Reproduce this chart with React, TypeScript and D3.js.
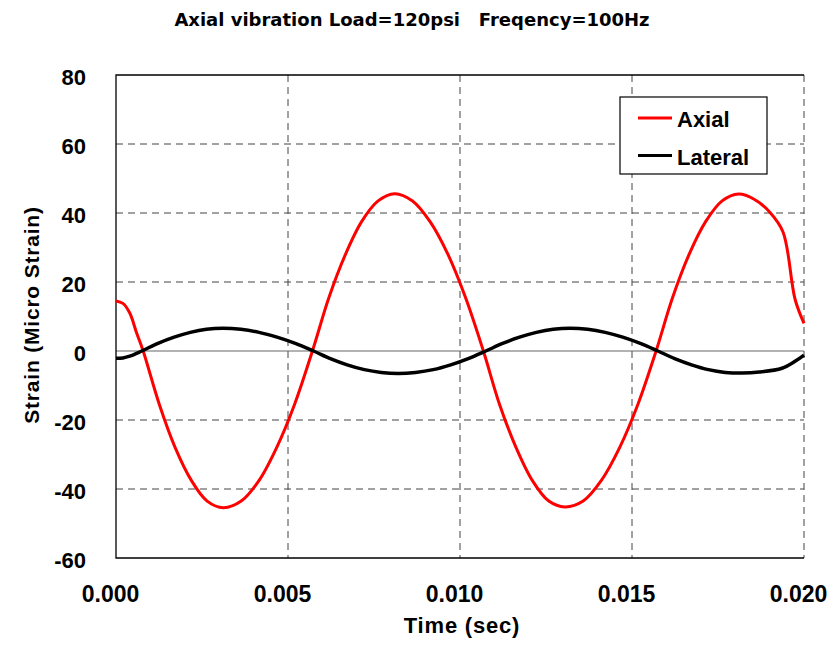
import React from "react";
import * as d3 from "d3";

// Axial strain (red)
const axialTime = [
  0, 0.0002, 0.0004, 0.0006,
  0.00079, 0.00126, 0.00172, 0.00219, 0.00265, 0.00312, 0.00364, 0.00416, 0.00467, 0.00519,
  0.00571, 0.00619, 0.00667, 0.00714, 0.00762, 0.0081, 0.00862, 0.00913, 0.00965, 0.01016,
  0.01068, 0.01115, 0.01163, 0.0121, 0.01258, 0.01305, 0.01358, 0.01411, 0.01464, 0.01517,
  0.0157, 0.01618, 0.01666, 0.01714, 0.01762, 0.0181, 0.01855, 0.019, 0.01939,
  0.01974, 0.02,
];
const axialValues = [
  14.5, 13.8, 11, 5.2,
  0, -15.5, -28, -37.5, -43.5, -45.4, -43.5, -37.5, -28, -15.5,
  0, 15.5, 28, 37.5, 43.5, 45.6, 43.5, 37.5, 28, 15.5,
  0, -15.5, -28, -37.5, -43.5, -45.2, -43.5, -37.5, -28, -15.5,
  0, 15.5, 28, 37.5, 43.5, 45.5, 44, 40.3, 34.5,
  15, 8,
];
// Lateral strain (black)
const lateralTime = [
  0, 0.0002, 0.0004,
  0.00075, 0.00122, 0.00169, 0.00216, 0.00263, 0.0031, 0.00363, 0.00416, 0.00468, 0.00521,
  0.00574, 0.00623, 0.00672, 0.00722, 0.00771, 0.0082, 0.00871, 0.00922, 0.00973, 0.01024,
  0.01075, 0.01124, 0.01173, 0.01222, 0.01271, 0.0132, 0.01371, 0.01422, 0.01473, 0.01524,
  0.01575, 0.01624, 0.01673, 0.01722, 0.01771, 0.0182, 0.0187, 0.01936, 0.01974, 0.02,
];
const lateralValues = [
  -2.1, -2.0, -1.5,
  0, 2.2, 4.0, 5.4, 6.3, 6.6, 6.3, 5.4, 4.0, 2.2,
  0, -2.2, -4.0, -5.4, -6.2, -6.5, -6.2, -5.4, -4.0, -2.2,
  0, 2.2, 4.0, 5.4, 6.3, 6.6, 6.3, 5.4, 4.0, 2.2,
  0, -2.2, -4.0, -5.4, -6.2, -6.4, -6.1, -5.0, -3.0, -1.2,
];
const xTicks = [0, 0.005, 0.01, 0.015, 0.02];
const yTicks = [-60, -40, -20, 0, 20, 40, 60, 80];
const seriesNames = ["Axial", "Lateral"];
const seriesColors = ["#ff0000", "#000000"];

const W = 833;
const H = 645;
const left = 116;
const right = 804;
const top = 75;
const bottom = 558;

export default function App() {
  const x = d3.scaleLinear().domain([0, 0.02]).range([left, right]);
  const y = d3.scaleLinear().domain([-60, 80]).range([bottom, top]);
  const line = d3
    .line<[number, number]>()
    .x((d) => x(d[0]))
    .y((d) => y(d[1]))
    .curve(d3.curveCatmullRom.alpha(0.5));
  const series = [
    axialTime.map((t, i) => [t, axialValues[i]] as [number, number]),
    lateralTime.map((t, i) => [t, lateralValues[i]] as [number, number]),
  ];
  const font = "'Liberation Sans', Arial, sans-serif";
  return (
    <svg
      width={W}
      height={H}
      style={{ position: "absolute", left: 0, top: 0, background: "#fff" }}
      fontFamily={font}
    >
      <rect x={0} y={0} width={W} height={H} fill="#fff" />
      <text
        x={412}
        y={26}
        textAnchor="middle"
        fontSize={18}
        fontWeight="bold"
        fontFamily="'DejaVu Sans', sans-serif"
      >
        Axial vibration Load=120psi{"\u00a0\u00a0\u00a0"}Freqency=100Hz
      </text>
      {/* gridlines */}
      {yTicks
        .filter((v) => v !== 0 && v !== 80 && v !== -60)
        .map((v) => (
          <line
            key={"gy" + v}
            x1={left}
            x2={right}
            y1={y(v)}
            y2={y(v)}
            stroke="#444"
            strokeWidth={1}
            strokeDasharray="7,5"
          />
        ))}
      {xTicks
        .filter((v) => v !== 0)
        .map((v) => (
          <line
            key={"gx" + v}
            x1={x(v)}
            x2={x(v)}
            y1={top}
            y2={bottom}
            stroke="#444"
            strokeWidth={1}
            strokeDasharray="7,5"
          />
        ))}
      <line x1={left} x2={right} y1={y(0)} y2={y(0)} stroke="#666" strokeWidth={1.2} />
      {/* border */}
      <path
        d={`M${right},${top}H${left}V${bottom}H${right}`}
        fill="none"
        stroke="#000"
        strokeWidth={1.3}
      />
      {/* series */}
      {series.map((pts, i) => (
        <path
          key={seriesNames[i]}
          d={line(pts) || ""}
          fill="none"
          stroke={seriesColors[i]}
          strokeWidth={i === 0 ? 3 : 3.5}
          strokeLinejoin="round"
        />
      ))}
      {/* y tick labels */}
      {yTicks.map((v) => (
        <text
          key={"yl" + v}
          x={86}
          y={y(v) + 10}
          textAnchor="end"
          fontSize={22}
          fontWeight="bold"
        >
          {v}
        </text>
      ))}
      {xTicks.map((v) => (
        <text
          key={"xl" + v}
          x={x(v) - 5.5}
          y={602}
          textAnchor="middle"
          fontSize={23}
          fontWeight="bold"
        >
          {v.toFixed(3)}
        </text>
      ))}
      <text
        x={462}
        y={633}
        textAnchor="middle"
        fontSize={22}
        fontWeight="bold"
        letterSpacing={0.8}
      >
        Time (sec)
      </text>
      <text
        transform={`translate(39,315) rotate(-90)`}
        textAnchor="middle"
        fontSize={21}
        fontWeight="bold"
        letterSpacing={0.8}
      >
        Strain (Micro Strain)
      </text>
      {/* legend */}
      <rect x={620} y={97} width={147} height={77} fill="#fff" stroke="#000" strokeWidth={1.2} />
      {seriesNames.map((n, i) => (
        <g key={"lg" + n}>
          <line
            x1={638}
            x2={672}
            y1={118 + i * 37.5}
            y2={118 + i * 37.5}
            stroke={seriesColors[i]}
            strokeWidth={3}
          />
          <text x={677} y={126.5 + i * 38} fontSize={22} fontWeight="bold">
            {n}
          </text>
        </g>
      ))}
    </svg>
  );
}
